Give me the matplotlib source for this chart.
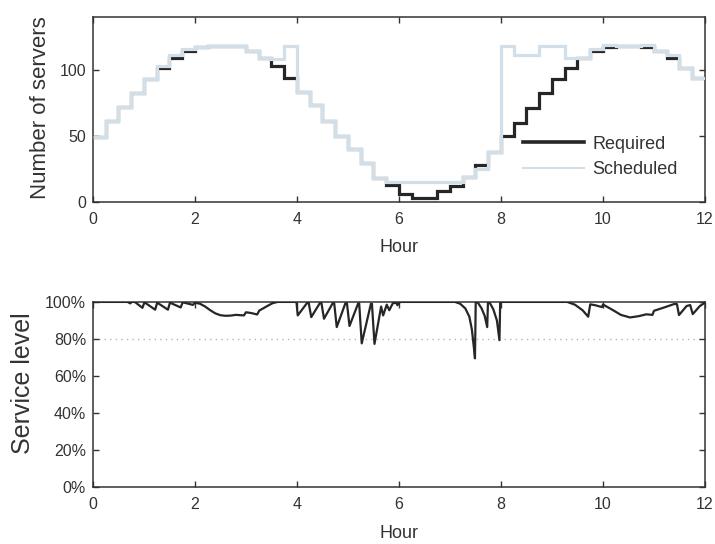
import numpy as np
import matplotlib
matplotlib.use('Agg')
import matplotlib.pyplot as plt

plt.rcParams['font.family'] = ['Liberation Sans', 'DejaVu Sans']

# ---- data -------------------------------------------------------------
interval_edges = np.arange(49) * 0.25   # 15-minute staffing intervals (hours)

required = [49, 61, 72, 82, 93, 101, 109, 114, 117, 118, 118, 118,
            114, 109, 103, 94, 83, 73, 61, 50, 40, 29.5, 18, 13,
            6, 3, 3, 8, 12, 19, 28, 38, 50, 60, 71, 82,
            93, 101, 109, 114, 117, 118, 118, 117, 114, 109, 101, 94]
scheduled = [49, 61, 72, 82, 93, 103, 111, 116, 117, 118, 118, 118,
             114, 109, 108, 118, 83, 73, 61, 50, 40, 29.5, 18, 15,
             15, 15, 15, 15, 15, 19, 25, 38, 118, 111, 111, 118,
             118, 109, 109, 116, 119, 118, 118, 119, 114, 111, 101, 94]

svc_hours = [0.00, 0.68, 0.73, 0.76, 0.82, 0.97, 1.01, 1.22, 1.26, 1.47, 1.51,
             1.72, 1.76, 1.96, 2.00, 2.10, 2.20, 2.30, 2.40, 2.50, 2.60, 2.70,
             2.80, 2.96, 3.00, 3.10, 3.22, 3.26, 3.40, 3.52, 3.62, 3.99, 4.015,
             4.20, 4.23, 4.28, 4.45, 4.48, 4.53, 4.70, 4.73, 4.78, 4.95, 4.98,
             5.03, 5.20, 5.22, 5.27, 5.45, 5.47, 5.52, 5.65, 5.69, 5.76, 5.81,
             5.88, 5.95, 5.97, 6.02, 7.10, 7.20, 7.30, 7.38, 7.43, 7.47, 7.49,
             7.505, 7.55, 7.62, 7.68, 7.73, 7.745, 7.78, 7.85, 7.92, 7.97, 7.985,
             9.30, 9.45, 9.60, 9.71, 9.75, 9.85, 9.98, 10.00, 10.20, 10.35,
             10.53, 10.70, 10.85, 10.97, 11.00, 11.20, 11.40, 11.45, 11.49,
             11.64, 11.71, 11.76, 11.90, 12.00]
svc_level = [100, 100, 99.2, 100, 100, 96.8, 99.8, 95.8, 99.6, 95.8, 99.6,
             97.0, 99.8, 98.4, 99.6, 99.0, 97.5, 95.5, 93.8, 92.8, 92.5, 92.6,
             93.0, 92.7, 94.4, 94.0, 93.2, 95.3, 97.5, 99.3, 100, 100, 92.7,
             99.5, 99.5, 91.8, 99.4, 99.4, 90.9, 99.3, 99.3, 86.4, 99.3, 99.3,
             87.0, 99.2, 99.2, 77.6, 99.0, 99.0, 77.3, 97.5, 92.7, 98.5, 95.5,
             99.3, 99.5, 98.2, 100, 100, 99.0, 96.5, 92.0, 85.0, 75.0, 69.5,
             100, 99.5, 96.5, 92.5, 86.4, 100, 99.5, 96.0, 90.0, 79.3, 100,
             100, 98.5, 95.5, 92.0, 98.7, 98.2, 97.2, 98.6, 95.5, 93.0,
             91.6, 92.3, 93.3, 93.0, 95.2, 97.0, 98.9, 98.8, 92.9,
             97.8, 98.3, 93.4, 97.8, 99.6]

target_level = 80
hour_ticks = [0, 2, 4, 6, 8, 10, 12]
server_ticks = [0, 50, 100]
level_ticks = [0, 20, 40, 60, 80, 100]

# ---- figure -----------------------------------------------------------
fig = plt.figure(figsize=(7.15, 5.44), dpi=100)
ax1 = fig.add_axes([0.130, 0.629, 0.856, 0.340])
ax2 = fig.add_axes([0.130, 0.105, 0.856, 0.340])

dark = '#262626'
light = '#d2dfe8'
txt = '#333333'

ax1.stairs(required, interval_edges, baseline=None, color=dark, lw=2.3,
           label='Required', zorder=2)
ax1.stairs(scheduled, interval_edges, baseline=None, color=light, lw=2.3,
           label='Scheduled', zorder=3)
ax1.set_xlim(0, 12)
ax1.set_ylim(0, 140)
ax1.set_xticks(hour_ticks)
ax1.set_yticks(server_ticks)
ax1.set_xlabel('Hour', fontsize=13, color=txt, labelpad=9)
ax1.set_ylabel('Number of servers', fontsize=16, color=txt)
ax1.yaxis.set_label_coords(-0.068, 0.51)
leg = ax1.legend(loc='center left', bbox_to_anchor=(0.702, 0.243),
                 frameon=False, fontsize=13, handlelength=3.4,
                 handletextpad=0.45, labelspacing=0.45, borderpad=0,
                 borderaxespad=0)
for t in leg.get_texts():
    t.set_color(txt)
leg.legend_handles[0].set_linewidth(2.6)
leg.legend_handles[1].set_linewidth(1.5)

ax2.plot(svc_hours, svc_level, color=dark, lw=1.6, zorder=3)
ax2.axhline(target_level, color='#b5b5b5', ls=(0, (1, 3)), lw=1.0, zorder=1)
ax2.set_xlim(0, 12)
ax2.set_ylim(0, 100)
ax2.set_xticks(hour_ticks)
ax2.set_yticks(level_ticks)
ax2.set_yticklabels([f'{v}%' for v in level_ticks])
ax2.set_xlabel('Hour', fontsize=13, color=txt, labelpad=9.5)
ax2.set_ylabel('Service level', fontsize=18, color=txt)
ax2.yaxis.set_label_coords(-0.095, 0.56)

for ax in (ax1, ax2):
    ax.tick_params(direction='in', top=True, right=True, length=4,
                   width=1, colors=txt, labelsize=11.5)
    ax.tick_params(axis='x', pad=7)
    ax.tick_params(axis='y', pad=5)
    for s in ax.spines.values():
        s.set_color(txt)
        s.set_linewidth(1.1)

fig.savefig('out.png', dpi=100, facecolor='white')
